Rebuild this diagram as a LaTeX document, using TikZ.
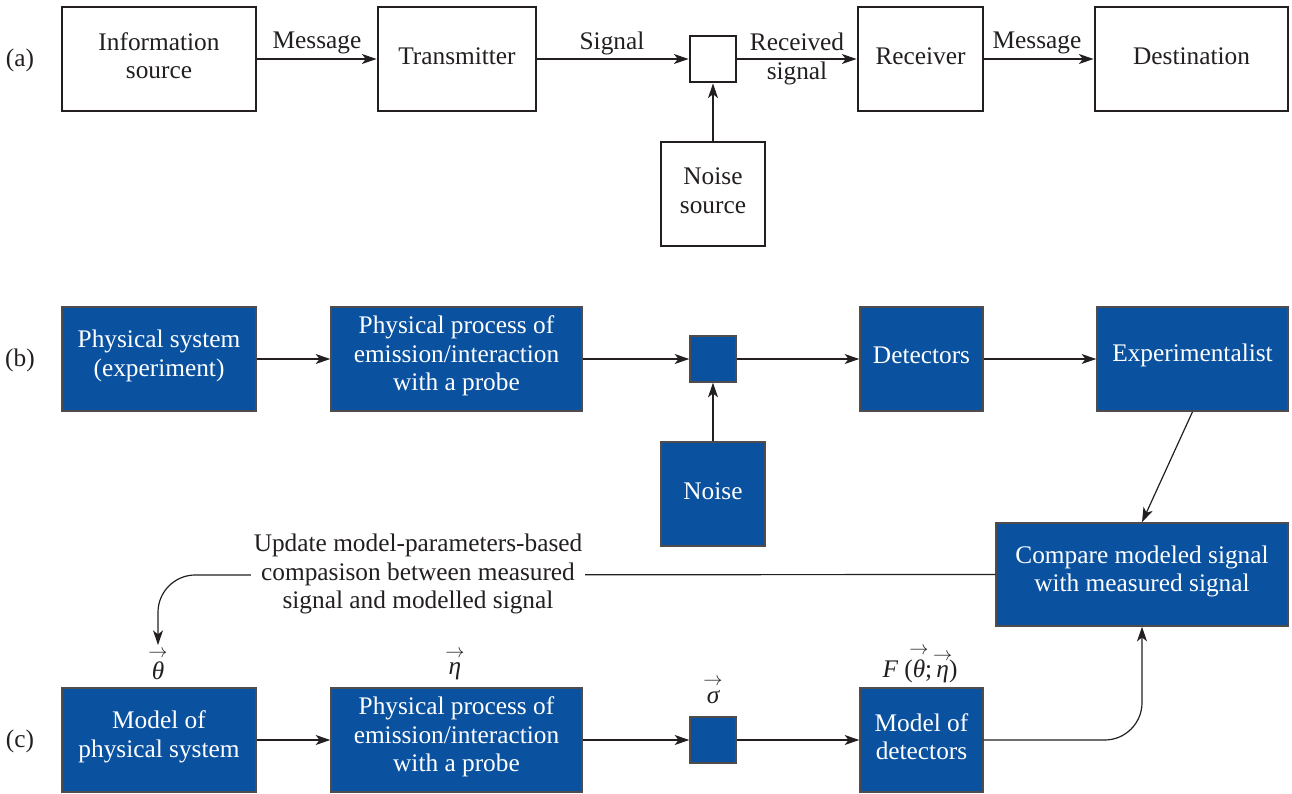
\documentclass[tikz,border=0pt]{standalone}
\usepackage{fontspec}
\usepackage{amsmath}
\setmainfont{Liberation Serif}
\usetikzlibrary{arrows.meta,calc}
\definecolor{boxblue}{RGB}{10,82,160}
\definecolor{ink}{RGB}{35,31,32}
\newcommand{\vecit}[1]{\ensuremath{\overset{\makebox[0pt]{$\scriptstyle\rightarrow$}}{\mbox{\itshape #1}}}}
% style, name, x1, y1, x2, y2, text
\newcommand{\boxat}[7]{\node[#1, minimum width={(#5-#3)*0.75pt}, minimum height={(#6-#4)*0.75pt}, label={[#1text]center:{#7}}] (#2) at ({(#3+#5)/2},{(#4+#6)/2}) {};}
\begin{document}
\begin{tikzpicture}[x=0.75pt,y=-0.75pt,
  font=\fontsize{19}{21.5}\selectfont,
  wbox/.style={draw=ink, line width=2.2pt, fill=white, inner sep=0pt},
  bbox/.style={draw=ink!80, line width=1.1pt, fill=boxblue, inner sep=0pt},
  wboxtext/.style={align=center, text=ink, inner sep=0pt, yshift=2.4pt},
  bboxtext/.style={align=center, text=white, inner sep=0pt, yshift=2.4pt},
  lbl/.style={inner sep=0pt, align=center, text=ink},
  arr/.style={draw=ink, line width=0.9pt, -{Stealth[length=11pt,width=7.5pt,inset=3pt]}}]
\useasboundingbox (0,0) rectangle (1292,793);

% ---------- row (a)
\node[lbl] (la) at (20,60) {(a)};
\boxat{wbox}{is}{62}{7}{256}{111}{Information\\source}
\boxat{wbox}{tr}{378}{7}{536}{111}{Transmitter}
\boxat{wbox}{sqa}{690}{36}{736}{82}{}
\boxat{wbox}{rc}{858}{7}{983}{111}{Receiver}
\boxat{wbox}{ds}{1095}{7}{1288}{111}{Destination}
\boxat{wbox}{ns}{661}{142}{765}{246}{Noise\\source}

\draw[arr] (is.east) -- (tr.west);
\draw[arr] (tr.east) -- (sqa.west);
\draw[arr] (sqa.east) -- (rc.west);
\draw[arr] (rc.east) -- (ds.west);
\draw[arr] (ns.north) -- (sqa.south);

\node[lbl] (tm1) at (317,43) {Message};
\node[lbl] (tsig) at (612,43) {Signal};
\node[lbl] (trs) at (797,59) {Received\\signal};
\node[lbl] (tm2) at (1037,43) {Message};

% ---------- row (b)
\node[lbl] (lb) at (20,360) {(b)};
\boxat{bbox}{ps}{62}{307}{256}{411}{Physical system\\(experiment)}
\boxat{bbox}{pp}{331}{307}{582}{411}{Physical process of\\emission/interaction\\with a probe}
\boxat{bbox}{sqb}{690}{336}{736}{382}{}
\boxat{bbox}{det}{860}{307}{983}{411}{Detectors}
\boxat{bbox}{exp}{1097}{307}{1288}{411}{Experimentalist}
\boxat{bbox}{noi}{661}{442}{765}{546}{Noise}
\boxat{bbox}{cmp}{996}{523}{1288}{626}{Compare modeled signal\\with measured signal}

\draw[arr] (ps.east) -- (pp.west);
\draw[arr] (pp.east) -- (sqb.west);
\draw[arr] (sqb.east) -- (det.west);
\draw[arr] (det.east) -- (exp.west);
\draw[arr] (noi.north) -- (sqb.south);
\draw[arr] (exp.south) -- (cmp.north);

% ---------- row (c)
\node[lbl] (lc) at (20,741) {(c)};
\boxat{bbox}{mps}{62}{688}{256}{792}{Model of\\physical system}
\boxat{bbox}{pp2}{331}{688}{582}{792}{Physical process of\\emission/interaction\\with a probe}
\boxat{bbox}{sqc}{690}{717}{736}{763}{}
\boxat{bbox}{md}{860}{688}{983}{792}{Model of\\detectors}

\node[lbl] (th) at (158,664) {\vecit{θ}};
\node[lbl] (et) at (455,664) {\vecit{η}};
\node[lbl] (sg) at (713,690) {\vecit{σ}};
\node[lbl] (ff) at (920,664) {{\itshape F} (\vecit{θ};\,\vecit{η})};

\draw[arr] (mps.east) -- (pp2.west);
\draw[arr] (pp2.east) -- (sqc.west);
\draw[arr] (sqc.east) -- (md.west);
\coordinate (cx) at (1142,626);
\draw[arr, rounded corners=28pt] (md.east) -- (md.east -| cx) -- (cmp.south);

% ---------- feedback
\coordinate (fb) at (158,575);
\coordinate (fe) at (158,645);
\draw[arr, rounded corners=28pt] (cmp.west) -- (fb) -- (fe);
\node[lbl, fill=white, inner sep=2pt] (upd) at (418,574) {Update model-parameters-based\\compasison between measured\\signal and modelled signal};
\end{tikzpicture}
\end{document}
